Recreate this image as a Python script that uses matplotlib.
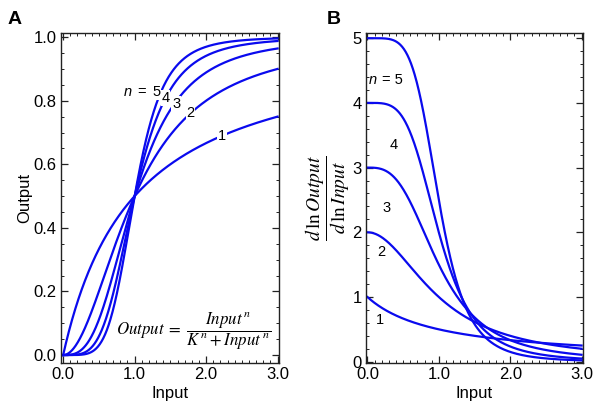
import numpy as np
import matplotlib
matplotlib.use("Agg")
import matplotlib.pyplot as plt
from matplotlib.ticker import MultipleLocator, FormatStrFormatter

plt.rcParams['font.family'] = ['Liberation Sans', 'DejaVu Sans']
plt.rcParams['mathtext.fontset'] = 'stix'

# Hill coefficients and threshold of the plotted curves
hill_n = [1, 2, 3, 4, 5]
K = 1.0
x_range = [0.0, 3.0]

# where the curve labels sit (data coordinates)
label_xy_a = [(2.22, 0.69), (1.78, 0.762), (1.58, 0.79), (1.43, 0.808), (1.30, 0.826)]
label_xy_b = [(0.18, 0.65), (0.20, 1.70), (0.27, 2.38), (0.37, 3.35), (0.35, 4.35)]

x = np.linspace(x_range[0], x_range[1], 600)
blue = '#0a0aee'

fig = plt.figure(figsize=(6.01, 4.15), dpi=100)
axA = fig.add_axes([61/601, 1-363/415, (279-61)/601, (363-33)/415])
axB = fig.add_axes([366/601, 1-363/415, (583-366)/601, (363-33)/415])


def style(ax):
    ax.tick_params(which='both', direction='in', top=True, right=True,
                   labelsize=12, colors='#222222', labelcolor='black')
    ax.tick_params(which='major', length=5, width=0.9)
    ax.tick_params(which='minor', length=2.5, width=0.7)
    ax.tick_params(axis='x', pad=3)
    ax.tick_params(axis='y', pad=3)
    for s in ax.spines.values():
        s.set_linewidth(1.0)
        s.set_color('#222222')


# panel A: output
for n in hill_n:
    y = x**n / (K**n + x**n)
    axA.plot(x, y, color=blue, lw=1.6, zorder=2)
for n, (lx, ly) in zip(hill_n, label_xy_a):
    axA.text(lx, ly, str(n), fontsize=10.5, ha='center', va='center', zorder=3,
             bbox=dict(boxstyle='square,pad=0.05', fc='white', ec='none'))
axA.text(1.10, 0.826, '=', fontsize=10.5, ha='center', va='center', zorder=3)
axA.text(0.90, 0.826, 'n', fontsize=10.5, style='italic', ha='center', va='center', zorder=3)
axA.text(0.74, 0.075,
         r'$\mathit{Output}\;=\;\dfrac{\mathit{Input}^{\,n}}{K^{\,n} + \mathit{Input}^{\,n}}$',
         fontsize=12.2, ha='left', va='center')

axA.set_xlim(-0.03, 3.02)
axA.set_ylim(-0.025, 1.013)
axA.xaxis.set_major_locator(MultipleLocator(1.0))
axA.xaxis.set_minor_locator(MultipleLocator(0.1))
axA.yaxis.set_major_locator(MultipleLocator(0.2))
axA.yaxis.set_minor_locator(MultipleLocator(0.05))
axA.xaxis.set_major_formatter(FormatStrFormatter('%.1f'))
axA.yaxis.set_major_formatter(FormatStrFormatter('%.1f'))
axA.set_xlabel('Input', fontsize=12, labelpad=3)
axA.set_ylabel('Output', fontsize=12, labelpad=1)
style(axA)
fig.text(8/601, 1-19/415, 'A', fontsize=14, fontweight='bold', ha='left', va='center')

# panel B: logarithmic sensitivity
for n in hill_n:
    s = n * K**n / (K**n + x**n)
    axB.plot(x, s, color=blue, lw=1.6, zorder=2)
for n, (lx, ly) in zip(hill_n, label_xy_b):
    if n == 5:
        axB.text(lx, ly, '= 5', fontsize=10.5, ha='center', va='center', zorder=3)
        axB.text(lx - 0.28, ly, 'n', fontsize=10.5, style='italic',
                 ha='center', va='center', zorder=3)
    else:
        axB.text(lx, ly, str(n), fontsize=10.5, ha='center', va='center', zorder=3)

axB.set_xlim(-0.02, 3.02)
axB.set_ylim(-0.02, 5.08)
axB.xaxis.set_major_locator(MultipleLocator(1.0))
axB.xaxis.set_minor_locator(MultipleLocator(0.1))
axB.yaxis.set_major_locator(MultipleLocator(1))
axB.yaxis.set_minor_locator(MultipleLocator(0.2))
axB.xaxis.set_major_formatter(FormatStrFormatter('%.1f'))
axB.yaxis.set_major_formatter(FormatStrFormatter('%d'))
axB.set_xlabel('Input', fontsize=12, labelpad=3)
axB.set_ylabel(r'$\dfrac{d\,\ln \mathit{Output}}{d\,\ln \mathit{Input}}$', fontsize=14, labelpad=0)
style(axB)
fig.text(327/601, 1-19/415, 'B', fontsize=14, fontweight='bold', ha='left', va='center')

fig.savefig('out.png', dpi=100)
